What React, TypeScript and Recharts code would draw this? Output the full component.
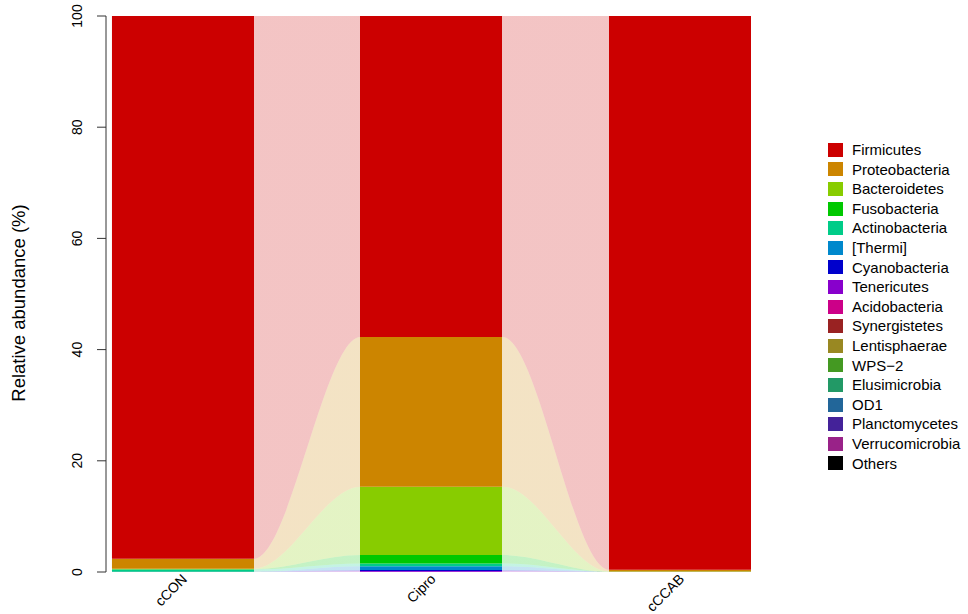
import React from "react";
import { AreaChart, Area, XAxis, YAxis, Label } from "recharts";

const samples = ["cCON", "Cipro", "cCCAB"];

const phyla = [
  "Firmicutes",
  "Proteobacteria",
  "Bacteroidetes",
  "Fusobacteria",
  "Actinobacteria",
  "[Thermi]",
  "Cyanobacteria",
  "Tenericutes",
  "Acidobacteria",
  "Synergistetes",
  "Lentisphaerae",
  "WPS\u22122",
  "Elusimicrobia",
  "OD1",
  "Planctomycetes",
  "Verrucomicrobia",
  "Others",
];

const phylumColors = [
  "#CC0000",
  "#CC8500",
  "#88CC00",
  "#00C800",
  "#00CC88",
  "#0088CC",
  "#0000CC",
  "#8800CC",
  "#CC0088",
  "#992222",
  "#998822",
  "#449922",
  "#229966",
  "#226699",
  "#442299",
  "#992288",
  "#000000",
];

// relative abundance (%) per sample: cCON, Cipro, cCCAB
const firmicutes = [97.6, 57.75, 99.6];
const proteobacteria = [1.8, 26.9, 0.3];
const bacteroidetes = [0.1, 12.3, 0.05];
const fusobacteria = [0.05, 1.5, 0];
const actinobacteria = [0.4, 0.5, 0.03];
const thermi = [0, 0.7, 0];
const cyanobacteria = [0, 0.15, 0];
const tenericutes = [0.03, 0.15, 0.01];
const acidobacteria = [0, 0.03, 0];
const synergistetes = [0, 0, 0];
const lentisphaerae = [0, 0, 0];
const wps2 = [0, 0, 0];
const elusimicrobia = [0, 0, 0];
const od1 = [0, 0, 0];
const planctomycetes = [0, 0, 0];
const verrucomicrobia = [0, 0, 0];
const others = [0.02, 0.02, 0.01];

const phylumValues = [
  firmicutes,
  proteobacteria,
  bacteroidetes,
  fusobacteria,
  actinobacteria,
  thermi,
  cyanobacteria,
  tenericutes,
  acidobacteria,
  synergistetes,
  lentisphaerae,
  wps2,
  elusimicrobia,
  od1,
  planctomycetes,
  verrucomicrobia,
  others,
];

const yTicks = [0, 20, 40, 60, 80, 100];

// half of a bar's width, in units of the distance between bar centres
const BAR_HALF = 0.2857;
const AXIS_PAD = 0.024;
const FLOW_OPACITY = 0.23;

// each sample contributes two rows: the left and right edge of its bar
const tableData = samples.flatMap((_, i) =>
  [i - BAR_HALF, i + BAR_HALF].map((x) => {
    const row: Record<string, number> = { x };
    phyla.forEach((p, k) => {
      row[p] = phylumValues[k][i];
    });
    return row;
  })
);

const span = samples.length - 1 + 2 * BAR_HALF;
const stops = samples.map((_, i) => [i / span, (i + 2 * BAR_HALF) / span]);

const font = "'Liberation Sans', Arial, Helvetica, sans-serif";

const YTick = ({ x, y, payload }: any) => (
  <text
    transform={`translate(${x - 13},${y}) rotate(-90)`}
    textAnchor="middle"
    fontSize={14}
    fontFamily={font}
    fill="#000"
  >
    {payload.value}
  </text>
);

const XTick = ({ x, payload }: any) => (
  <text
    transform={`translate(${x + 5},580) rotate(-45)`}
    textAnchor="end"
    fontSize={14}
    fontFamily={font}
    fill="#000"
  >
    {samples[payload.value]}
  </text>
);

const YTitle = ({ viewBox }: any) => (
  <text
    transform={`translate(25,${viewBox.y + viewBox.height / 2 + 9}) rotate(-90)`}
    textAnchor="middle"
    fontSize={18.5}
    fontFamily={font}
    fill="#000"
  >
    Relative abundance (%)
  </text>
);

const PhylaLegend = () => (
  <div
    style={{
      position: "absolute",
      left: 828,
      top: 140,
      fontFamily: font,
      fontSize: 15,
      lineHeight: "19.6px",
      whiteSpace: "nowrap",
    }}
  >
    {phyla.map((p, k) => (
      <div key={p} style={{ display: "flex", alignItems: "center", height: 19.6 }}>
        <span
          style={{
            width: 15,
            height: 14,
            background: phylumColors[k],
            marginRight: 9,
            display: "inline-block",
          }}
        />
        <span>{p}</span>
      </div>
    ))}
  </div>
);

export default function App() {
  // bottom of the stack first, so Firmicutes ends up on top
  const order = phyla.map((_, k) => k).reverse();
  return (
    <div style={{ position: "absolute", left: 0, top: 0, width: 968, height: 614, background: "#fff" }}>
      <AreaChart
        width={968}
        height={614}
        data={tableData}
        margin={{ top: 16, right: 217, bottom: 0, left: 0 }}
      >
        <defs>
          {phyla.map((p, k) => (
            <linearGradient key={p} id={`flow-${k}`} x1="0" y1="0" x2="1" y2="0">
              {stops.flatMap(([a, b], j) => [
                <stop key={`a${j}`} offset={a} stopColor={phylumColors[k]} stopOpacity={j === 0 ? 1 : FLOW_OPACITY} />,
                <stop key={`b${j}`} offset={a} stopColor={phylumColors[k]} stopOpacity={1} />,
                <stop key={`c${j}`} offset={b} stopColor={phylumColors[k]} stopOpacity={1} />,
                <stop key={`d${j}`} offset={b} stopColor={phylumColors[k]} stopOpacity={FLOW_OPACITY} />,
              ])}
            </linearGradient>
          ))}
        </defs>
        <XAxis
          dataKey="x"
          type="number"
          domain={[-BAR_HALF - AXIS_PAD, samples.length - 1 + BAR_HALF]}
          ticks={samples.map((_, i) => i)}
          tick={<XTick />}
          axisLine={false}
          tickLine={false}
          height={42}
          allowDataOverflow
        />
        <YAxis
          type="number"
          domain={[0, 100]}
          ticks={yTicks}
          width={106}
          tick={<YTick />}
          tickSize={9}
          axisLine={{ stroke: "#333", strokeWidth: 1 }}
          tickLine={{ stroke: "#333", strokeWidth: 1 }}
          allowDataOverflow
        >
          <Label content={<YTitle />} />
        </YAxis>
        {order.map((k) => (
          <Area
            key={phyla[k]}
            dataKey={phyla[k]}
            stackId="1"
            type="monotone"
            stroke="none"
            fill={`url(#flow-${k})`}
            fillOpacity={1}
            isAnimationActive={false}
            dot={false}
            activeDot={false}
          />
        ))}
      </AreaChart>
      <PhylaLegend />
    </div>
  );
}
